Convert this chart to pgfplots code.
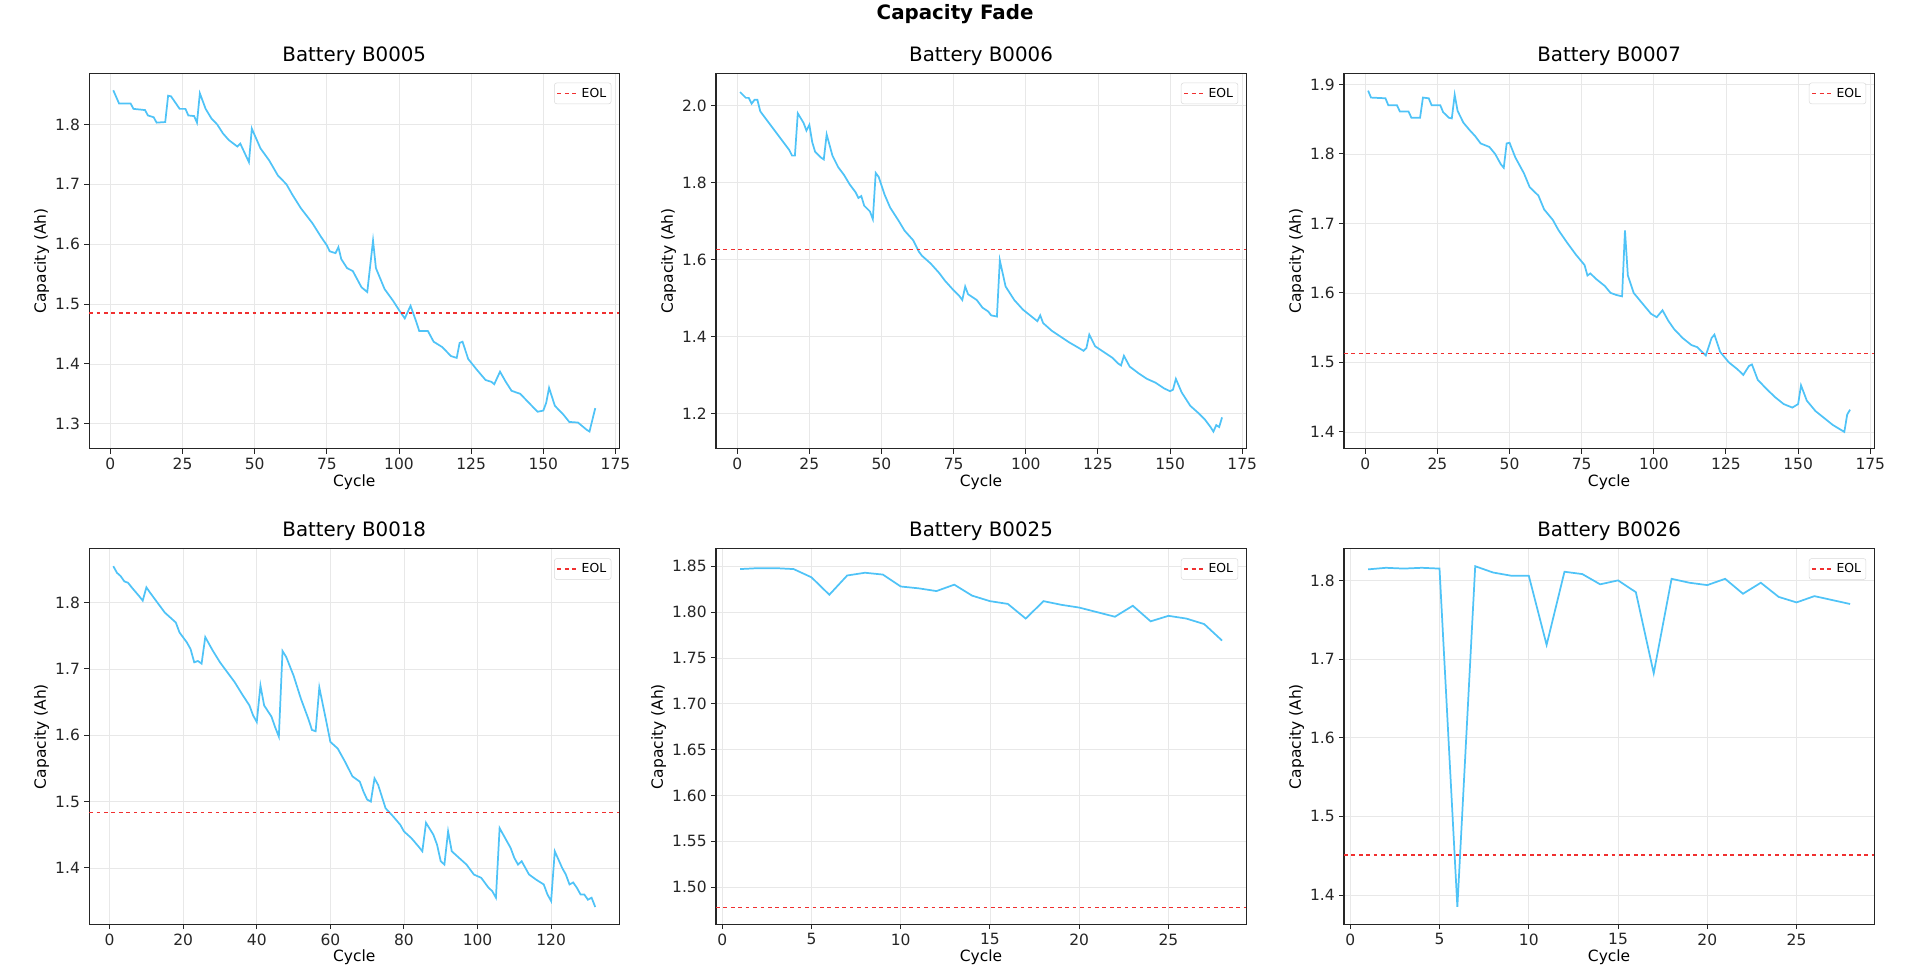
\documentclass[border=0pt]{standalone}
\usepackage{pgfplots}
\pgfplotsset{compat=1.18}
\usepackage{fontspec}
\setmainfont{DejaVu Sans}
\definecolor{capblue}{HTML}{4FC3F7}
\definecolor{eolred}{HTML}{F03030}
\pgfplotsset{bat/.style={
  width=428pt,height=303pt,scale only axis,anchor=south west,
  /pgf/number format/assume math mode=true,
  tick label style={font=\fontsize{12.5}{14}\selectfont,text=black!85},
  label style={font=\fontsize{12.5}{14}\selectfont},
  title style={font=\fontsize{16}{18}\selectfont,yshift=-3pt},
  xlabel={Cycle},ylabel={Capacity (Ah)},
  xlabel style={yshift=3pt},ylabel style={yshift=-2pt},
  grid=major,major grid style={gray!18,line width=0.6pt},
  axis line style={black!85,line width=0.9pt},
  tick style={black!85,line width=0.8pt},
  tick align=outside,xtick pos=bottom,ytick pos=left,
  major tick length=4pt,
  legend pos=north east,
  legend style={font=\fontsize{10}{12}\selectfont,draw=gray!30,rounded corners=2pt,inner sep=2pt,at={(0.985,0.975)}},
  legend cell align=left,
  yticklabel style={/pgf/number format/fixed,/pgf/number format/precision=2},
},
capl/.style={color=capblue,line width=1.4pt,forget plot},
eolline/.style={color=eolred,dashed,line width=1pt}}
\begin{document}
\begin{tikzpicture}
\path (0pt,0pt) rectangle (1550pt,787pt);
\node[font=\fontsize{16}{18}\selectfont\bfseries] at (771pt,778pt) {Capacity Fade};
% B0005
\begin{axis}[bat,at={(72pt,427pt)},title={Battery B0005},xmin=-7.35,xmax=176.35,ymin=1.2585,ymax=1.8855,xtick={0,25,...,175},ytick={1.3,1.4,...,1.81},
 yticklabel style={/pgf/number format/precision=1}]
\addplot[capl] coordinates {(1,1.857)(3,1.835)(7,1.835)(8,1.826)(12,1.824)(13,1.815)(15,1.812)(16,1.803)(19,1.804)(20,1.848)(21,1.847)(24,1.826)(26,1.826)(27,1.815)(29,1.814)(30,1.803)(31,1.852)(33,1.826)(35,1.81)(37,1.8)(39,1.785)(41,1.774)(44,1.763)(45,1.768)(48,1.737)(49,1.793)(52,1.76)(55,1.74)(58,1.715)(61,1.7)(63,1.683)(66,1.66)(70,1.635)(73,1.612)(75,1.598)(76,1.588)(78,1.585)(79,1.595)(80,1.575)(82,1.56)(84,1.555)(87,1.528)(89,1.52)(91,1.606)(92,1.56)(95,1.525)(98,1.505)(100,1.49)(102,1.476)(104,1.497)(106,1.47)(107,1.455)(110,1.455)(112,1.437)(115,1.428)(118,1.413)(120,1.41)(121,1.435)(122,1.437)(124,1.408)(127,1.39)(130,1.373)(132,1.37)(133,1.366)(135,1.387)(137,1.37)(139,1.355)(142,1.35)(145,1.335)(148,1.32)(150,1.322)(151,1.335)(152,1.36)(154,1.33)(157,1.315)(159,1.303)(162,1.302)(165,1.29)(166,1.287)(168,1.326)};
\addplot[eolline] coordinates {(-7.35,1.485)(176.35,1.485)};
\addlegendentry{EOL}
\end{axis}
% B0006
\begin{axis}[bat,at={(578pt,427pt)},title={Battery B0006},xmin=-7.35,xmax=176.35,ymin=1.109,ymax=2.084,xtick={0,25,...,175},ytick={1.2,1.4,...,2.01},
 yticklabel style={/pgf/number format/precision=1,/pgf/number format/fixed zerofill}]
\addplot[capl] coordinates {(1,2.035)(3,2.02)(4,2.02)(5,2.005)(6,2.015)(7,2.015)(8,1.985)(10,1.965)(12,1.945)(14,1.925)(16,1.905)(18,1.885)(19,1.87)(20,1.87)(21,1.98)(23,1.955)(24,1.935)(25,1.95)(26,1.905)(27,1.88)(29,1.865)(30,1.86)(31,1.925)(33,1.87)(35,1.84)(37,1.82)(39,1.795)(41,1.775)(42,1.76)(43,1.765)(44,1.74)(46,1.725)(47,1.705)(48,1.825)(49,1.815)(51,1.77)(53,1.735)(56,1.7)(58,1.675)(61,1.65)(63,1.62)(64,1.61)(67,1.59)(70,1.565)(72,1.545)(75,1.52)(77,1.505)(78,1.495)(79,1.53)(80,1.51)(83,1.495)(85,1.475)(87,1.465)(88,1.455)(90,1.452)(91,1.598)(93,1.53)(96,1.495)(99,1.47)(102,1.452)(104,1.44)(105,1.455)(106,1.435)(109,1.415)(112,1.4)(115,1.385)(118,1.372)(120,1.363)(121,1.37)(122,1.405)(124,1.375)(127,1.36)(130,1.345)(132,1.33)(133,1.325)(134,1.35)(136,1.322)(139,1.305)(142,1.29)(145,1.28)(148,1.265)(150,1.258)(151,1.262)(152,1.29)(154,1.255)(157,1.22)(160,1.2)(162,1.185)(164,1.165)(165,1.153)(166,1.17)(167,1.165)(168,1.19)};
\addplot[eolline] coordinates {(-7.35,1.627)(176.35,1.627)};
\addlegendentry{EOL}
\end{axis}
% B0007
\begin{axis}[bat,at={(1085pt,427pt)},title={Battery B0007},xmin=-7.35,xmax=176.35,ymin=1.376,ymax=1.916,xtick={0,25,...,175},ytick={1.4,1.5,...,1.91},
 yticklabel style={/pgf/number format/precision=1}]
\addplot[capl] coordinates {(1,1.891)(2,1.881)(7,1.88)(8,1.87)(11,1.87)(12,1.861)(15,1.861)(16,1.852)(19,1.852)(20,1.881)(22,1.88)(23,1.87)(26,1.87)(27,1.86)(29,1.852)(30,1.851)(31,1.885)(32,1.862)(34,1.845)(36,1.835)(38,1.826)(40,1.815)(43,1.81)(45,1.8)(47,1.785)(48,1.78)(49,1.815)(50,1.816)(52,1.795)(55,1.772)(57,1.752)(60,1.74)(62,1.72)(65,1.705)(67,1.69)(70,1.672)(73,1.655)(76,1.64)(77,1.625)(78,1.628)(80,1.62)(83,1.61)(85,1.6)(87,1.597)(89,1.595)(90,1.69)(91,1.625)(93,1.6)(96,1.585)(99,1.57)(101,1.565)(103,1.575)(105,1.56)(107,1.548)(110,1.535)(113,1.525)(115,1.522)(118,1.51)(120,1.535)(121,1.54)(123,1.515)(126,1.5)(129,1.49)(131,1.482)(133,1.495)(134,1.497)(136,1.475)(139,1.462)(142,1.45)(145,1.44)(148,1.435)(150,1.44)(151,1.467)(153,1.445)(156,1.43)(159,1.42)(162,1.41)(164,1.405)(166,1.4)(167,1.425)(168,1.432)};
\addplot[eolline] coordinates {(-7.35,1.513)(176.35,1.513)};
\addlegendentry{EOL}
\end{axis}
% B0018
\begin{axis}[bat,at={(72pt,43pt)},title={Battery B0018},xmin=-5.55,xmax=138.55,ymin=1.315,ymax=1.881,xtick={0,20,...,120},ytick={1.4,1.5,...,1.81},
 yticklabel style={/pgf/number format/precision=1}]
\addplot[capl] coordinates {(1,1.855)(2,1.845)(3,1.84)(4,1.832)(5,1.83)(6,1.823)(8,1.81)(9,1.803)(10,1.823)(11,1.815)(13,1.8)(15,1.785)(16,1.78)(18,1.77)(19,1.755)(21,1.74)(22,1.73)(23,1.71)(24,1.712)(25,1.708)(26,1.748)(28,1.728)(30,1.71)(32,1.695)(34,1.68)(36,1.662)(38,1.645)(39,1.63)(40,1.62)(41,1.675)(42,1.645)(44,1.628)(45,1.612)(46,1.598)(47,1.727)(48,1.718)(50,1.69)(52,1.655)(54,1.625)(55,1.608)(56,1.606)(57,1.672)(59,1.618)(60,1.59)(62,1.58)(64,1.56)(66,1.538)(68,1.53)(69,1.515)(70,1.503)(71,1.5)(72,1.535)(73,1.525)(75,1.49)(77,1.478)(79,1.465)(80,1.455)(82,1.445)(84,1.432)(85,1.425)(86,1.468)(88,1.45)(89,1.435)(90,1.41)(91,1.405)(92,1.455)(93,1.425)(95,1.415)(97,1.405)(99,1.39)(101,1.385)(103,1.37)(104,1.365)(105,1.355)(106,1.46)(107,1.45)(109,1.43)(110,1.415)(111,1.405)(112,1.41)(114,1.39)(116,1.382)(118,1.375)(119,1.36)(120,1.35)(121,1.425)(123,1.4)(124,1.39)(125,1.375)(126,1.378)(127,1.37)(128,1.36)(129,1.36)(130,1.352)(131,1.355)(132,1.341)};
\addplot[eolline] coordinates {(-5.55,1.484)(138.55,1.484)};
\addlegendentry{EOL}
\end{axis}
% B0025
\begin{axis}[bat,at={(578pt,43pt)},title={Battery B0025},xmin=-0.35,xmax=29.35,ymin=1.4595,ymax=1.869,xtick={0,5,...,25},ytick={1.50,1.55,...,1.86},
 yticklabel style={/pgf/number format/precision=2,/pgf/number format/fixed zerofill}]
\addplot[capl] coordinates {(1,1.847)(2,1.848)(3,1.848)(4,1.847)(5,1.838)(6,1.819)(7,1.840)(8,1.843)(9,1.841)(10,1.828)(11,1.826)(12,1.823)(13,1.830)(14,1.818)(15,1.812)(16,1.809)(17,1.793)(18,1.812)(19,1.808)(20,1.805)(21,1.800)(22,1.795)(23,1.807)(24,1.790)(25,1.796)(26,1.793)(27,1.787)(28,1.769)};
\addplot[eolline] coordinates {(-0.35,1.478)(29.35,1.478)};
\addlegendentry{EOL}
\end{axis}
% B0026
\begin{axis}[bat,at={(1085pt,43pt)},title={Battery B0026},xmin=-0.35,xmax=29.35,ymin=1.363,ymax=1.840,xtick={0,5,...,25},ytick={1.4,1.5,...,1.81},
 yticklabel style={/pgf/number format/precision=1}]
\addplot[capl] coordinates {(1,1.814)(2,1.816)(3,1.815)(4,1.816)(5,1.815)(6,1.385)(7,1.818)(8,1.810)(9,1.806)(10,1.806)(11,1.718)(12,1.811)(13,1.808)(14,1.795)(15,1.800)(16,1.785)(17,1.682)(18,1.802)(19,1.797)(20,1.794)(21,1.802)(22,1.783)(23,1.797)(24,1.779)(25,1.772)(26,1.780)(27,1.775)(28,1.770)};
\addplot[eolline] coordinates {(-0.35,1.451)(29.35,1.451)};
\addlegendentry{EOL}
\end{axis}
\end{tikzpicture}
\end{document}
